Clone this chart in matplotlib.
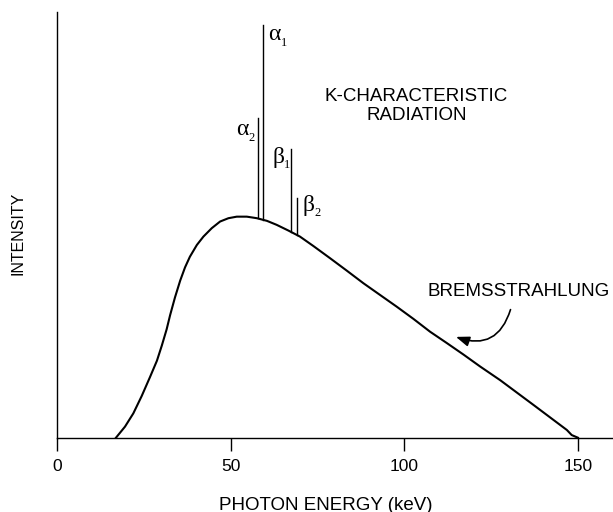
import numpy as np
import matplotlib
matplotlib.use("Agg")
import matplotlib.pyplot as plt

plt.rcParams['font.family'] = ['Liberation Sans', 'DejaVu Sans']

# bremsstrahlung continuum (keV, arbitrary intensity)
energy = [16.9, 19.5, 21.9, 24.3, 26.7, 28.7, 30.1, 31.5, 32.5, 33.9,
          35.4, 36.8, 38.2, 40.2, 42.1, 44.5, 46.9, 49.3, 51.7, 54.6,
          57.5, 60.4, 63.2, 66.6, 69.9, 73.8, 78.6, 83.4, 88.2, 93.0,
          97.8, 102.6, 107.4, 112.2, 117.0, 121.8, 127.6, 137.2, 146.8,
          148.2, 150.0]
intensity = [0, 5.0, 11.0, 18.8, 27.4, 34.8, 41.6, 49.0, 55.4, 63.4,
             71.0, 77.0, 81.8, 87.1, 90.9, 94.7, 97.7, 99.2, 99.9, 99.9,
             99.2, 98.0, 96.2, 93.6, 90.9, 86.6, 81.1, 75.5, 69.8, 64.5,
             59.2, 53.7, 47.9, 42.8, 37.6, 32.2, 26.0, 14.8, 3.5,
             1.2, 0]

# K characteristic lines: energy and peak top
line_energy = [57.75, 59.2, 67.3, 69.2]
line_top = [144.5, 186.5, 130.5, 108.3]
greek = ['α', 'α', 'β', 'β']
subs = ['2', '1', '1', '2']
greek_pos = [(51.5, 136.8), (60.6, 179.8), (62.0, 124.2), (70.7, 102.5)]
sub_pos = [(55.2, 134.1), (64.4, 177.0), (65.2, 121.9), (74.1, 100.2)]

xticks = [0, 50, 100, 150]

fig = plt.figure(figsize=(6.13, 5.12), dpi=100)
ax = fig.add_axes([0.0935, 0.1451, 0.9065, 0.8315])

ax.plot(energy, intensity, color='black', lw=1.5, solid_joinstyle='round')

for e, top in zip(line_energy, line_top):
    base = np.interp(e, energy, intensity)
    ax.plot([e, e], [base, top], color='black', lw=1.0)

for g, (gx, gy), s, (sx, sy) in zip(greek, greek_pos, subs, sub_pos):
    ax.text(gx, gy, g, fontsize=17, family='Liberation Serif',
            ha='left', va='baseline')
    ax.text(sx, sy, s, fontsize=9, family='Liberation Serif',
            ha='left', va='baseline')

ax.text(103.5, 150.0, 'K-CHARACTERISTIC\nRADIATION', fontsize=13.5,
        ha='center', va='center', multialignment='center', linespacing=1.2)
ax.text(132.9, 66.0, 'BREMSSTRAHLUNG', fontsize=13.5, ha='center', va='center')
ax.annotate('', xy=(114.1, 46.0), xytext=(130.8, 59.1),
            arrowprops=dict(arrowstyle='-|>,head_length=0.8,head_width=0.3',
                            color='black', lw=1.2,
                            connectionstyle='arc3,rad=-0.55'))

ax.set_xlim(0, 160.1)
ax.set_ylim(0, 192.4)
ax.spines['top'].set_visible(False)
ax.spines['right'].set_visible(False)
ax.spines['left'].set_linewidth(1.0)
ax.spines['bottom'].set_linewidth(1.0)
ax.set_yticks([])
ax.set_xticks(xticks)
ax.tick_params(axis='x', direction='out', length=9.5, width=1.0,
               pad=6, labelsize=12.5)

fig.text(326 / 613, 1 - 505 / 512, 'PHOTON ENERGY (keV)', fontsize=13.5,
         ha='center', va='center')
fig.text(18 / 613, 1 - 233 / 512, 'INTENSITY', fontsize=11.5,
         rotation=90, ha='center', va='center')

fig.savefig('out.png', dpi=100)
